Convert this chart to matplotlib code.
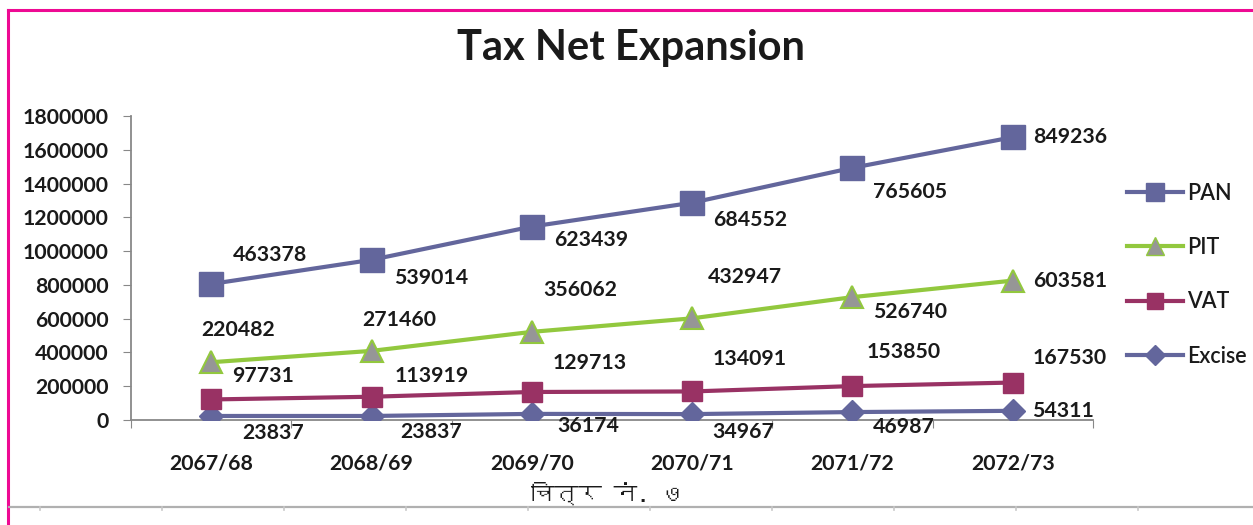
import matplotlib
matplotlib.use("Agg")
import matplotlib.pyplot as plt
from matplotlib import font_manager
from matplotlib.ft2font import FT2Font
import numpy as np
from matplotlib.lines import Line2D

# ---------------- data ----------------
years = ["2067/68", "2068/69", "2069/70", "2070/71", "2071/72", "2072/73"]
excise = [23837, 23837, 36174, 34967, 46987, 54311]
vat = [97731, 113919, 129713, 134091, 153850, 167530]
pit = [220482, 271460, 356062, 432947, 526740, 603581]
pan = [463378, 539014, 623439, 684552, 765605, 849236]
series_names = ["Excise", "VAT", "PIT", "PAN"]
title = "Tax Net Expansion"
caption = "चित्र नं. ७"
yticks = [0, 200000, 400000, 600000, 800000, 1000000, 1200000, 1400000, 1600000, 1800000]

# ---------------- fonts ----------------
def find_font_for(ch):
    for f in font_manager.fontManager.ttflist:
        try:
            if ord(ch) in FT2Font(f.fname).get_charmap():
                return f.name
        except Exception:
            pass
    return None

deva = find_font_for("च") or "DejaVu Sans"
num_font = "Lato"
num_weight = "bold"
num_size = 15.3
sans_font = "Lato"

W, H = 1253, 525
fig = plt.figure(figsize=(W / 100, H / 100), dpi=100)
ax = fig.add_axes([131 / W, 1 - 420 / H, (1093 - 131) / W, (420 - 116) / H])

x = np.arange(len(years))
s1 = np.array(excise)
s2 = s1 + np.array(vat)
s3 = s2 + np.array(pit)
s4 = s3 + np.array(pan)

c_blue = "#63669C"
c_green = "#92C83E"
c_maroon = "#993264"
c_gray = "#969696"
txt_col = "#1a1a1a"

ax.plot(x, s1, color=c_blue, lw=3, marker="D", ms=12, mfc=c_blue, mec=c_blue, zorder=3, label="Excise")
ax.plot(x, s2, color=c_maroon, lw=3, marker="s", ms=14, mfc=c_maroon, mec=c_maroon, zorder=3, label="VAT")
ax.plot(x, s3, color=c_green, lw=3, marker="^", ms=16, mfc=c_gray, mec=c_green, mew=1.5, zorder=3, label="PIT")
ax.plot(x, s4, color=c_blue, lw=3, marker="s", ms=17, mfc=c_blue, mec=c_blue, zorder=3, label="PAN")

# label offsets in pixels (dx right, dy down)
off_pan = [(59, -29), (60, 18), (59, 13), (58, 17), (58, 24), (57, 0)]
off_pit = [(27, -32), (28, -31), (48, -42), (53, -41), (58, 15), (57, 0)]
off_vat = [(52, -23), (60, -21), (58, -29), (58, -32), (51, -34), (57, -25)]
off_exc = [(62, 17), (60, 16), (56, 12), (51, 18), (51, 15), (50, 0)]

for vals, cum, offs in [(pan, s4, off_pan), (pit, s3, off_pit), (vat, s2, off_vat), (excise, s1, off_exc)]:
    for i in range(len(years)):
        dx, dy = offs[i]
        ax.annotate(str(vals[i]), (x[i], cum[i]), xytext=(dx * 0.72, -dy * 0.72),
                    textcoords="offset points", ha="center", va="center",
                    fontsize=num_size, family=num_font, fontweight=num_weight,
                    color=txt_col, zorder=4, annotation_clip=False)

ax.set_xlim(-0.5, len(years) - 0.5)
ax.set_ylim(0, 1800000)
ax.set_yticks(yticks)
ax.set_yticklabels([str(v) for v in yticks], family=num_font, fontsize=num_size,
                   fontweight=num_weight, color=txt_col)
ax.set_xticks(np.arange(len(years) + 1) - 0.5)
ax.set_xticklabels([])
ax.set_xticks(x, minor=True)
ax.set_xticklabels(years, minor=True, family=num_font, fontsize=num_size,
                   fontweight=num_weight, color=txt_col)
ax.tick_params(axis="x", which="minor", length=0, pad=24)
ax.tick_params(axis="x", which="major", length=6, color="#888888", direction="out")
ax.tick_params(axis="y", length=6, color="#888888", direction="out", pad=10)
for sp in ["top", "right"]:
    ax.spines[sp].set_visible(False)
for sp in ["left", "bottom"]:
    ax.spines[sp].set_color("#888888")
    ax.spines[sp].set_linewidth(1.3)

# legend
handles = [
    Line2D([], [], color=c_blue, lw=3, marker="s", ms=13, mfc=c_blue, mec=c_blue),
    Line2D([], [], color=c_green, lw=3, marker="^", ms=13, mfc=c_gray, mec=c_green),
    Line2D([], [], color=c_maroon, lw=3, marker="s", ms=11, mfc=c_maroon, mec=c_maroon),
    Line2D([], [], color=c_blue, lw=3, marker="D", ms=10, mfc=c_blue, mec=c_blue),
]
leg = fig.legend(handles, ["PAN", "PIT", "VAT", "Excise"], loc="upper left",
                 bbox_to_anchor=(1118 / W, 1 - 174 / H), frameon=False,
                 prop={"family": sans_font, "size": 15.5, "weight": "semibold"},
                 handlelength=2.6, handletextpad=0.2, labelspacing=1.55, borderaxespad=0)
for t in leg.get_texts():
    t.set_color(txt_col)

fig.text(631 / W, 1 - 48 / H, title, ha="center", va="center",
         fontsize=30, fontweight="bold", family=sans_font, color=txt_col)
fig.text(608 / W, 1 - 493 / H, caption, ha="center", va="center",
         fontsize=17, fontweight="bold", family=[deva, "DejaVu Sans"], color=txt_col)

# page decorations: magenta border and gray rule
fig.add_artist(Line2D([7.5 / W, 7.5 / W], [0, 1 - 9.5 / H], transform=fig.transFigure,
                      color="#EE0A93", lw=2.2))
fig.add_artist(Line2D([7.5 / W, 1], [1 - 9.5 / H, 1 - 9.5 / H], transform=fig.transFigure,
                      color="#EE0A93", lw=2.2))
fig.add_artist(Line2D([9 / W, 1], [1 - 507 / H, 1 - 507 / H], transform=fig.transFigure,
                      color="#B0B0B0", lw=1.6))
for tx in np.arange(40, W, 122):
    fig.add_artist(Line2D([tx / W, tx / W], [1 - 507 / H, 1 - 510 / H], transform=fig.transFigure,
                          color="#C8C8C8", lw=1.2))

fig.savefig("out.png", dpi=100)
